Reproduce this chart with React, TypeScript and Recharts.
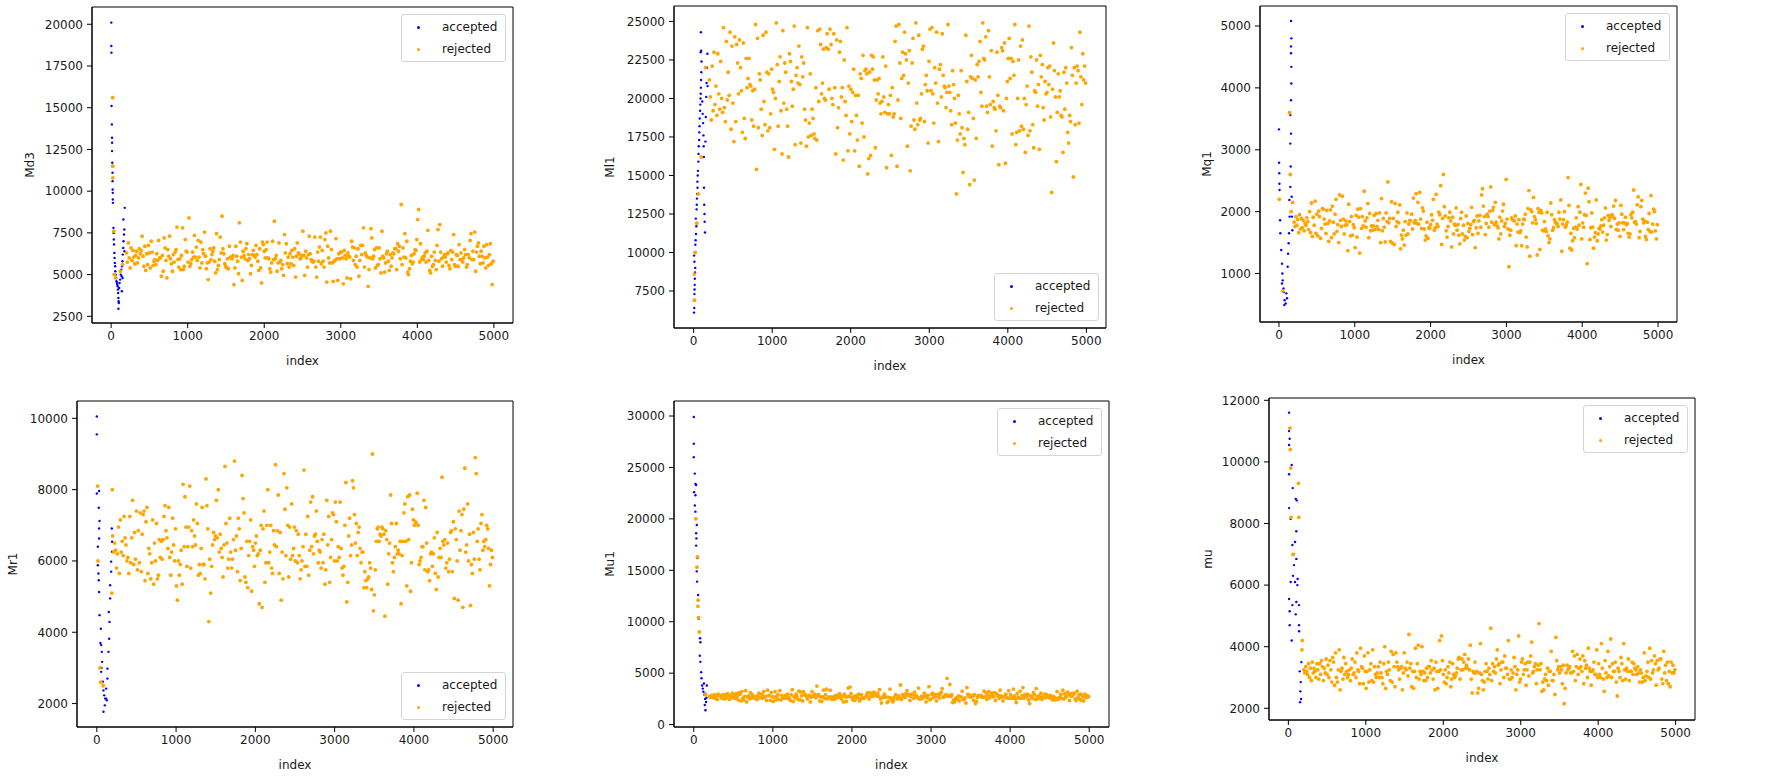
import React from 'react';
import { ScatterChart, Scatter, XAxis, YAxis, Legend, ReferenceArea } from 'recharts';

// sample index axis shared by every trace
const INDEX_TICKS = [0, 1000, 2000, 3000, 4000, 5000];
const FIRST_REJECTED = 200;
const LAST_REJECTED = 4990;

// ---- Md3 ----
const MD3_TICKS = [2500, 5000, 7500, 10000, 12500, 15000, 17500, 20000];
const MD3_ACCEPTED: [number, number][] = [
  [2, 20100], [3, 18700], [4, 18300], [5, 15100], [10, 14000], [12, 13200], [13, 12900], [12, 12400],
  [15, 11700], [16, 11500], [18, 11100], [19, 10600], [20, 10100], [21, 9900], [22, 9500], [23, 9300],
  [30, 7800], [33, 7500], [35, 7100], [38, 6800], [42, 6300], [45, 6000], [48, 5700], [52, 5500],
  [55, 5200], [60, 5000], [65, 4800], [70, 4600], [75, 4500], [80, 4400], [85, 4300], [88, 4100],
  [92, 3900], [95, 3600], [98, 3400], [100, 3300], [95, 2950], [105, 4200], [110, 4500], [118, 4700],
  [125, 5000], [132, 5300], [138, 4900], [142, 5500], [148, 5800], [152, 6200], [158, 6600], [162, 7000],
  [168, 7400], [172, 7700], [160, 8300], [178, 9000], [175, 6400], [150, 4800], [140, 4000],
];
const MD3_REJECTED_EARLY: [number, number][] = [
  [20, 15600], [22, 11500], [22, 10800], [35, 7600], [40, 5000], [60, 4800], [120, 5200], [150, 5600],
];
const MD3_REJECTED = [
  6300, 5750, 6900, 6000, 5400, 6600, 5850, 6450, 6050, 5650, 6150, 6400, 5700, 6000, 6550, 6250,
  6450, 7300, 6100, 5500, 6700, 5250, 6250, 5600, 6750, 6300, 5400, 7000, 6350, 5550, 5800, 5900,
  5600, 6250, 5850, 7050, 6000, 6000, 4900, 6150, 5200, 7200, 6600, 5850, 4800, 6500, 6100, 7300,
  5950, 5650, 5200, 6200, 5750, 6350, 6500, 7850, 5900, 5450, 5950, 5300, 6150, 7800, 5300, 5500,
  7100, 6400, 6350, 5750, 8400, 5500, 5650, 5900, 6350, 6050, 7350, 6050, 6650, 5850, 7050, 6050,
  5400, 6950, 5700, 6500, 6250, 7550, 6100, 5350, 5700, 4700, 5750, 6550, 5900, 6200, 6400, 6600,
  5800, 5100, 7450, 5300, 5550, 5900, 7250, 6300, 8500, 6550, 6250, 5650, 5500, 5400, 5950, 5350,
  6700, 6050, 6000, 5950, 6150, 4400, 5400, 6700, 6100, 5800, 5050, 8100, 6950, 6050, 4650, 6400,
  6150, 5950, 6550, 6850, 5850, 6200, 5950, 5050, 5550, 6200, 6450, 6150, 6050, 6750, 6200, 5800,
  5250, 6550, 5400, 4500, 6950, 6800, 6400, 6000, 6500, 6950, 6000, 5950, 5350, 5150, 5700, 7000,
  5900, 8200, 5950, 6150, 5200, 5700, 6900, 5750, 5850, 5350, 5600, 4950, 7400, 6300, 6850, 5650,
  6050, 5450, 6250, 5650, 6450, 6050, 5550, 6550, 4850, 6100, 6900, 6300, 6250, 5950, 6000, 6150,
  7600, 6150, 4950, 6400, 6000, 5450, 6200, 7300, 6250, 5900, 5800, 5750, 5800, 7250, 5450, 4850,
  6350, 5800, 6650, 7250, 5650, 6450, 5800, 5450, 7100, 7500, 4550, 6700, 6000, 5700, 7600, 6500,
  5700, 4600, 5800, 5850, 7150, 5950, 4650, 6250, 5950, 6350, 6350, 6000, 4450, 6450, 6150, 5950,
  4800, 6300, 6100, 6050, 4750, 7000, 6650, 5850, 6600, 5600, 6100, 5450, 6550, 4900, 5850, 6750,
  6200, 6750, 7800, 5450, 6300, 6150, 6050, 4300, 5300, 6000, 7750, 7200, 5950, 6100, 6500, 5400,
  6600, 5550, 5600, 6600, 5950, 5100, 7600, 6100, 6000, 5150, 5700, 6250, 6400, 5800, 5250, 6200,
  5500, 6000, 6300, 6250, 6550, 6550, 5300, 6850, 6400, 6700, 5950, 9200, 5600, 6600, 6050, 7450,
  6000, 7000, 5150, 5000, 5350, 5800, 6150, 5650, 5750, 6250, 6500, 6450, 7100, 8300, 8900, 5750,
  6850, 5900, 6050, 5900, 6100, 6300, 5750, 6400, 7650, 5850, 5250, 5100, 6100, 5500, 5600, 6350,
  5850, 5300, 6750, 7700, 5800, 8000, 6350, 5950, 5500, 6050, 6200, 6050, 5750, 6250, 6300, 5550,
  5350, 6450, 5900, 6350, 7400, 5600, 5500, 6200, 6150, 5500, 6800, 5900, 6300, 5900, 5750, 6000,
  6500, 6200, 5450, 5600, 6200, 6000, 7050, 7450, 5900, 6400, 5900, 7550, 5200, 6350, 6700, 6900,
  6100, 5650, 6400, 6100, 5700, 6700, 6000, 5400, 6800, 6050, 5550, 6200, 6850, 5650, 4400, 5800,
];

// ---- Ml1 ----
const ML1_TICKS = [7500, 10000, 12500, 15000, 17500, 20000, 22500, 25000];
const ML1_ACCEPTED: [number, number][] = [
  [5, 6100], [8, 6400], [4, 6900], [10, 7300], [12, 7600], [14, 7900], [15, 8300], [18, 8700],
  [20, 9000], [10, 9400], [6, 9800], [16, 10000], [22, 10500], [25, 10800], [30, 11200], [35, 11700],
  [28, 12200], [38, 12800], [40, 13100], [42, 13500], [45, 13800], [50, 14200], [48, 14600], [52, 15000],
  [55, 15300], [60, 15900], [62, 16400], [65, 16900], [70, 17300], [72, 17800], [75, 18200], [78, 18700],
  [82, 19200], [85, 19600], [88, 20000], [90, 20300], [92, 20700], [95, 21200], [98, 21700], [90, 23000],
  [92, 24300], [96, 23100], [100, 22400], [110, 19800], [115, 19000], [120, 18400], [125, 17600], [128, 16900],
  [130, 16200], [132, 14200], [135, 13100], [138, 12500], [140, 12000], [145, 11300], [150, 17200], [155, 18800],
  [160, 20100], [165, 21000], [170, 22000], [175, 22900], [178, 20800],
];
const ML1_REJECTED_EARLY: [number, number][] = [
  [20, 10000], [8, 8600], [12, 6900], [40, 11900], [60, 13800], [95, 16200], [150, 22000],
];
const ML1_REJECTED = [
  21200, 20100, 18600, 22100, 19200, 23000, 19600, 20800, 18900, 22900, 20300, 19300, 22400, 20000, 19100, 24600,
  19400, 18500, 23700, 19900, 21700, 20200, 24300, 18000, 23400, 19700, 17200, 24000, 18500, 23500, 22300, 20300,
  23800, 22000, 20500, 17800, 23600, 18700, 17400, 22600, 20700, 21300, 22600, 20900, 20800, 18600, 20500, 18200,
  20600, 24800, 15400, 23900, 18100, 21600, 21200, 19300, 17600, 24100, 19800, 18300, 24300, 21700, 17900, 21600,
  18100, 19000, 21900, 20600, 20400, 16700, 20000, 24900, 22200, 18200, 21100, 22700, 19200, 16400, 24400, 19700,
  22300, 21700, 19300, 18200, 16200, 22900, 22400, 21100, 19500, 20600, 24700, 17000, 21500, 22000, 21000, 23400,
  20900, 17100, 22700, 21400, 22300, 19300, 18600, 16900, 24600, 17500, 18400, 21600, 17600, 19300, 18700, 17700,
  17400, 20700, 17300, 24400, 19800, 24500, 23500, 20300, 21000, 23200, 20000, 19900, 23300, 24200, 23200, 20600,
  24500, 23500, 20000, 19600, 24200, 20700, 16400, 23800, 18100, 19400, 23000, 23700, 20100, 20700, 16000, 22500,
  19800, 18900, 24600, 16600, 20800, 17700, 20600, 18500, 20400, 21900, 16600, 20200, 18900, 17300, 20200, 15600,
  21600, 21300, 18400, 22800, 17500, 21800, 21900, 21600, 15100, 16100, 21700, 16300, 22800, 21900, 22700, 21200,
  16800, 19900, 21200, 20300, 21300, 19700, 19000, 19800, 22700, 20100, 19100, 22100, 15500, 19000, 19600, 19000,
  20200, 16300, 20700, 18800, 19000, 23700, 24700, 15600, 19900, 24800, 22300, 18700, 21300, 23000, 21500, 24300,
  22900, 22500, 16900, 21000, 23100, 15300, 18200, 22300, 23900, 18600, 18000, 24900, 19700, 18300, 24100, 18600,
  18700, 20300, 23200, 23400, 18500, 20900, 21500, 20500, 17100, 22400, 24500, 20500, 24600, 20300, 18400, 22000,
  21000, 24300, 19700, 17200, 21900, 22200, 20100, 24200, 21500, 20800, 20700, 19400, 20400, 24800, 20800, 20400,
  19200, 18300, 21800, 20900, 20000, 18400, 13800, 17300, 20200, 19000, 17700, 21800, 18100, 15200, 17400, 17000,
  24100, 21100, 18000, 19100, 14400, 21400, 22800, 21300, 18700, 14700, 21200, 17400, 22200, 21400, 22400, 23700,
  20400, 19500, 24900, 22600, 22500, 24000, 19500, 19100, 24400, 21400, 19600, 23100, 16900, 19800, 19400, 19300,
  17900, 23000, 20200, 15700, 19500, 19400, 23300, 23100, 19200, 23600, 15800, 20000, 21100, 22600, 23900, 21300,
  22600, 17700, 22400, 21500, 24800, 17000, 17800, 20000, 22500, 17900, 23400, 18200, 23800, 18000, 20000, 16500,
  19600, 20800, 17600, 24700, 17900, 22700, 21700, 18300, 16800, 20500, 20400, 22500, 19500, 20900, 16700, 22800,
  21400, 22200, 19400, 18600, 21100, 20300, 20400, 22000, 20900, 22100, 18800, 13900, 20600, 23600, 21800, 20100,
  15900, 19100, 21600, 20100, 20500, 18900, 18800, 16500, 21700, 19300, 22000, 21000, 17800, 17100, 18900, 18500,
  23300, 21500, 14900, 22000, 18300, 21000, 22100, 21800, 18400, 24300, 21400, 19600, 22900, 21200, 22100, 21000,
];

// ---- Mq1 ----
const MQ1_TICKS = [1000, 2000, 3000, 4000, 5000];
const MQ1_ACCEPTED: [number, number][] = [
  [0, 3330], [2, 2790], [4, 2620], [6, 2450], [8, 2350], [15, 1860], [18, 1650], [30, 1380],
  [40, 1160], [45, 1000], [40, 840], [50, 890], [62, 700], [75, 570], [88, 515], [97, 680],
  [106, 600], [115, 1110], [120, 1320], [128, 1490], [133, 1650], [141, 1920], [137, 2190], [150, 2400],
  [155, 2730], [150, 3100], [159, 3260], [150, 3560], [159, 3800], [163, 4070], [163, 4340], [159, 4560],
  [163, 4800], [159, 4670], [159, 5080], [172, 1920], [177, 1700], [168, 2240], [60, 760], [70, 490],
];
const MQ1_REJECTED_EARLY: [number, number][] = [
  [5, 2200], [50, 720], [140, 3600], [150, 2600], [160, 2000], [180, 2150],
];
const MQ1_REJECTED = [
  1830, 1760, 1920, 1780, 1870, 1660, 1950, 1720, 1890, 1740, 1860, 1690, 1810, 1780, 1900, 1840,
  1710, 2000, 1660, 2140, 1600, 1910, 1780, 2170, 1650, 1960, 1610, 2010, 1920, 1570, 1730, 2050,
  2040, 1880, 1800, 1650, 2020, 1810, 1520, 1850, 2030, 1580, 2090, 1830, 1640, 1960, 2200, 1680,
  1790, 1500, 2270, 1860, 1760, 2250, 1880, 1640, 1780, 1850, 1790, 1370, 2120, 1840, 1610, 1920,
  1620, 1790, 1740, 1420, 1940, 1590, 2040, 1910, 1330, 2050, 1730, 1920, 1770, 2330, 1850, 1750,
  1900, 2130, 1580, 1970, 1690, 1770, 1700, 1770, 1940, 1710, 1970, 1760, 1860, 1710, 1980, 1500,
  2210, 1690, 1890, 1750, 1510, 1980, 1840, 2480, 1820, 1890, 1520, 2160, 1490, 1890, 1470, 2130,
  1760, 1840, 1990, 1820, 2110, 1400, 1620, 1560, 1700, 1460, 1840, 1620, 1980, 1640, 1800, 1860,
  1850, 1960, 1720, 2220, 1820, 1860, 2290, 1810, 2150, 1800, 2310, 1880, 1730, 2060, 2010, 1720,
  1540, 1610, 1830, 1570, 1740, 1730, 1790, 1950, 1860, 2200, 1700, 1740, 2280, 1800, 1760, 1990,
  1950, 2420, 1470, 1890, 2600, 2080, 1930, 1690, 1590, 1760, 1900, 1990, 1850, 1430, 1910, 1640,
  1800, 1780, 2060, 1700, 1790, 1620, 1480, 1890, 1990, 1640, 1780, 1540, 1600, 1930, 1580, 1810,
  1680, 1730, 1790, 2070, 1630, 1840, 1860, 1420, 1740, 1930, 1650, 1850, 1940, 1750, 2270, 2370,
  2090, 1920, 1630, 1810, 1960, 1920, 1750, 2010, 2400, 1830, 2020, 2070, 1790, 2150, 1830, 1770,
  1740, 1560, 1910, 1640, 1850, 2010, 2120, 1760, 1810, 2520, 1880, 1720, 1110, 1620, 1700, 1900,
  1870, 1860, 1850, 1930, 1450, 1800, 1670, 1870, 1660, 1690, 1450, 1800, 1880, 1870, 1960, 1590,
  1430, 2050, 2340, 1280, 2030, 2000, 1820, 2230, 1920, 1870, 1810, 1300, 2050, 1990, 1390, 2020,
  1980, 1700, 1690, 1840, 1720, 1680, 1990, 1610, 1500, 1560, 2140, 1950, 1700, 1740, 1870, 1830,
  1810, 1810, 1760, 1990, 1880, 2190, 1360, 1800, 1870, 2000, 1750, 1780, 1830, 2550, 2100, 1410,
  1650, 1380, 1530, 1730, 1580, 1750, 1900, 1720, 2080, 1780, 1990, 2440, 1560, 1820, 1750, 1950,
  2300, 1940, 1160, 2380, 2160, 1550, 1740, 1980, 1750, 1410, 1590, 1660, 2190, 1530, 1640, 1730,
  1720, 1770, 1870, 1670, 1780, 1900, 2060, 1540, 1630, 1940, 1860, 1900, 1760, 1950, 1930, 2090,
  1890, 2180, 1710, 1800, 1700, 1820, 1600, 2100, 1960, 1820, 1710, 1820, 1910, 1790, 1810, 1650,
  1590, 1640, 1950, 1900, 1990, 2350, 1830, 1840, 1800, 2110, 2240, 1580, 1680, 2080, 2180, 1880,
  1820, 1850, 1600, 1550, 1830, 1710, 1970, 1680, 2260, 1670, 1800, 2040, 2000, 1690, 1560, 1790,
];

// ---- Mr1 ----
const MR1_TICKS = [2000, 4000, 6000, 8000, 10000];
const MR1_ACCEPTED: [number, number][] = [
  [0, 10050], [0, 9550], [0, 7890], [29, 7960], [25, 7490], [34, 7120], [29, 6910], [29, 6630],
  [13, 6400], [13, 5880], [21, 5650], [25, 5460], [29, 5130], [34, 4480], [51, 4100], [55, 3640],
  [63, 3450], [67, 3170], [55, 2890], [76, 2610], [84, 2370], [93, 2230], [105, 2140], [101, 1950],
  [84, 1770], [118, 2420], [134, 2700], [134, 2980], [147, 3450], [156, 3820], [160, 4290], [151, 4570],
  [168, 4950], [168, 5320], [181, 5700], [181, 5980], [193, 6260], [193, 6540], [189, 6910], [118, 2140],
  [126, 2090], [60, 3000], [45, 3700],
];
const MR1_REJECTED_EARLY: [number, number][] = [
  [10, 8100], [15, 6000], [40, 3000], [50, 2600], [80, 2500], [190, 5100], [195, 8000],
];
const MR1_REJECTED = [
  6700, 6250, 6500, 6300, 5800, 6200, 6950, 5650, 7150, 6250, 6550, 6150, 7250, 6650, 6450, 6000,
  6100, 5650, 7250, 5950, 6650, 7700, 5900, 6800, 6050, 7400, 5750, 6850, 5950, 7350, 5700, 6750,
  7300, 7400, 5450, 7100, 7500, 5650, 6350, 6200, 5500, 5950, 7150, 5350, 6500, 6000, 7050, 5500,
  5600, 6600, 6100, 6550, 6050, 6600, 7250, 7550, 6850, 6650, 6350, 7500, 6100, 5600, 6250, 7200,
  6450, 6000, 6900, 5300, 4900, 6000, 5600, 5900, 6300, 5350, 8150, 6400, 7800, 6950, 5850, 6400,
  6950, 8100, 5800, 6850, 6400, 7150, 6700, 6450, 7600, 7050, 5600, 5900, 5650, 6350, 7500, 5900,
  5900, 5500, 8300, 7550, 6900, 4300, 6050, 5100, 5850, 6450, 6800, 6600, 6700, 7700, 6650, 8000,
  6250, 6750, 6350, 6100, 5550, 6450, 8650, 7050, 6500, 5800, 6050, 7200, 6250, 5800, 6050, 6600,
  8800, 6300, 6700, 5700, 7200, 6900, 5450, 6350, 8400, 7750, 7350, 5550, 5400, 6550, 5250, 6150,
  6550, 7150, 5150, 6400, 6300, 5850, 6500, 6700, 6150, 6200, 4800, 6300, 7000, 4700, 6900, 7400,
  5400, 5950, 7000, 8000, 5950, 6250, 7000, 5800, 5650, 6850, 6450, 8700, 6400, 6850, 7850, 5650,
  6800, 4900, 6250, 5500, 8450, 7450, 6150, 8050, 7000, 5550, 6950, 6050, 7600, 6150, 6350, 6950,
  6000, 6850, 5950, 6750, 6150, 5500, 5750, 6000, 6400, 8550, 5850, 6750, 5850, 7250, 5600, 6300,
  7650, 6400, 7800, 6200, 6700, 6750, 7400, 6550, 5950, 6300, 6250, 5800, 6600, 5950, 6750, 5350,
  5750, 7700, 6450, 7250, 5400, 6100, 6600, 7350, 7300, 6000, 7650, 7100, 6000, 6400, 6100, 7650,
  6350, 5800, 5600, 5850, 7000, 8200, 4850, 5400, 6700, 7200, 6150, 6450, 8250, 8050, 7300, 6500,
  7050, 6150, 6800, 6950, 6350, 5950, 6250, 6250, 5250, 5700, 5450, 5250, 5500, 5550, 5950, 5800,
  5200, 9000, 4600, 5050, 5750, 6550, 6900, 6950, 6550, 6750, 6700, 6950, 6900, 6750, 4450, 6850,
  6600, 5350, 6200, 6500, 7850, 7050, 5950, 5700, 6100, 6400, 7050, 6200, 6300, 6200, 6550, 4800,
  6150, 6550, 7350, 7600, 6550, 5300, 7800, 6600, 7850, 5150, 5950, 7450, 7150, 7000, 7100, 7050,
  7900, 7000, 5900, 6000, 6100, 6400, 6400, 7700, 5750, 7500, 6500, 5700, 5750, 5450, 6200, 6250,
  5850, 6200, 6650, 5650, 5200, 6800, 5550, 6100, 6350, 6100, 8350, 6550, 6450, 6600, 5800, 5950,
  6500, 5700, 6050, 6800, 6850, 5700, 7100, 4950, 6900, 6600, 6000, 4900, 7400, 6300, 6850, 7300,
  4700, 7450, 8600, 6250, 6450, 7600, 6000, 6750, 4750, 5900, 5650, 6800, 6050, 8900, 8450, 6550,
  6900, 6050, 5750, 7050, 7300, 6300, 6550, 6400, 6600, 7000, 6900, 6350, 5300, 5900, 6300, 6100,
];

// ---- Mu1 ----
const MU1_TICKS = [0, 5000, 10000, 15000, 20000, 25000, 30000];
const MU1_ACCEPTED: [number, number][] = [
  [0, 29900], [0, 27300], [0, 26000], [13, 24400], [21, 23400], [30, 23300], [4, 22600], [21, 22300],
  [13, 21300], [21, 20700], [30, 20000], [38, 19400], [30, 18600], [34, 18100], [30, 17400], [46, 16200],
  [38, 14900], [42, 13900], [55, 12600], [63, 10300], [72, 9000], [80, 8400], [84, 8000], [76, 6700],
  [84, 6100], [93, 5100], [97, 4500], [106, 3800], [114, 3500], [135, 2900], [139, 1900], [148, 1400],
  [156, 2200], [165, 3800], [143, 2500], [122, 3200], [150, 3000], [160, 2600], [128, 4000],
];
const MU1_REJECTED_EARLY: [number, number][] = [
  [25, 20000], [45, 16300], [40, 15300], [55, 12100], [52, 11500], [60, 10400], [70, 9000], [150, 2900],
];
const MU1_REJECTED = [
  2750, 2650, 2850, 2700, 2600, 2900, 2550, 2800, 2450, 2950, 2850, 2800, 2700, 2550, 2900, 2750,
  2500, 2900, 2600, 3000, 2850, 2450, 2800, 2650, 3050, 2600, 2850, 2550, 3000, 2750, 2400, 3100,
  2950, 2300, 3200, 2550, 2400, 2750, 3300, 2200, 2700, 2800, 2500, 3100, 2600, 2900, 2700, 2550,
  2650, 2750, 2450, 2800, 3050, 2600, 2650, 2950, 2550, 3200, 2750, 2700, 2350, 3350, 2850, 2800,
  2350, 3100, 2700, 2250, 2700, 3200, 2400, 2750, 2900, 2450, 3300, 2400, 2850, 2600, 2550, 2650,
  2850, 2550, 2950, 2650, 2550, 2350, 2900, 3400, 2250, 2700, 2600, 2950, 2750, 2450, 3250, 2400,
  3150, 2800, 2300, 3200, 2950, 2850, 2750, 2500, 2800, 2850, 2200, 2650, 3200, 2800, 2750, 2950,
  2600, 3750, 2800, 2900, 2300, 2700, 2250, 2700, 3350, 2550, 2900, 3450, 2500, 2700, 2600, 3350,
  2700, 2450, 2650, 2450, 2800, 2550, 2850, 2850, 2650, 3000, 2750, 2500, 2800, 2200, 2950, 2700,
  2250, 2700, 3550, 2750, 3650, 3000, 2600, 2400, 2750, 2350, 2550, 2850, 2650, 2950, 2300, 2500,
  2900, 2600, 2550, 2600, 2650, 2800, 3050, 3100, 2500, 2750, 3050, 2750, 2950, 3150, 2800, 2850,
  2800, 3050, 2750, 3400, 2500, 2100, 2700, 2650, 2950, 2650, 2700, 2150, 2250, 2650, 3450, 2600,
  2450, 2200, 2400, 2700, 2900, 2700, 2500, 2800, 2600, 3850, 2450, 2900, 2700, 2850, 2650, 3000,
  3300, 2850, 2900, 2350, 2750, 2950, 2950, 2550, 3150, 2800, 2800, 2600, 3550, 2500, 2500, 2750,
  2550, 2650, 3050, 2850, 2200, 2600, 2850, 3700, 2400, 2500, 2950, 3050, 2600, 2750, 2900, 2300,
  2750, 2950, 2600, 2950, 3150, 3500, 2650, 2700, 2850, 2900, 4500, 2750, 2850, 3900, 2750, 2900,
  2150, 2400, 2200, 2500, 2600, 2450, 2800, 2300, 2700, 2700, 3250, 2450, 2450, 2600, 2100, 3600,
  2950, 2750, 2850, 2650, 2850, 2750, 2350, 2900, 2050, 2250, 2650, 2850, 2750, 2800, 2850, 2650,
  2650, 3250, 2700, 3100, 2450, 2850, 3200, 2600, 2800, 3050, 2850, 2700, 3100, 2350, 3000, 2800,
  2850, 2550, 3350, 2800, 2700, 2300, 2700, 2750, 2950, 2600, 2600, 3300, 2550, 2900, 2600, 2550,
  3450, 2800, 2500, 2150, 3000, 2650, 2550, 3250, 2550, 2850, 3600, 2550, 2900, 2700, 2700, 2950,
  2400, 2050, 2800, 2700, 2550, 3100, 2900, 2450, 3500, 2750, 2500, 2800, 2700, 3050, 2450, 2700,
  2700, 2950, 2600, 2900, 2800, 2750, 2600, 2850, 2650, 2400, 2750, 2650, 2400, 2550, 3200, 2450,
  2600, 2700, 2950, 2550, 3350, 2500, 3000, 2650, 2750, 3150, 2900, 2350, 3000, 2750, 2800, 3050,
  3000, 2500, 2350, 3250, 2650, 2900, 2450, 2950, 2350, 2700, 2300, 2950, 2650, 2850, 2650, 2750,
];

// ---- mu ----
const MU_TICKS = [2000, 4000, 6000, 8000, 10000, 12000];
const MU_ACCEPTED: [number, number][] = [
  [9, 11600], [9, 11000], [17, 10750], [9, 10550], [43, 9900], [9, 9600], [56, 9150], [95, 8800],
  [108, 8750], [9, 8500], [30, 8150], [103, 7750], [86, 7400], [52, 7300], [103, 6850], [73, 6650],
  [60, 6300], [86, 6100], [116, 6000], [30, 6100], [9, 5550], [52, 5350], [103, 5450], [138, 5350],
  [17, 5150], [95, 5050], [17, 4700], [138, 4700], [43, 4200], [138, 4500], [147, 3200], [160, 2850],
  [155, 2550], [164, 2300], [151, 2200], [168, 3500], [120, 6200], [70, 7000],
];
const MU_REJECTED_EARLY: [number, number][] = [
  [20, 11100], [25, 10400], [30, 9800], [35, 8200], [60, 7000], [130, 9300], [135, 8200], [180, 4200], [175, 3900],
];
const MU_REJECTED = [
  3250, 3150, 3350, 3200, 3100, 3450, 3000, 3300, 2900, 3500, 3150, 3300, 3200, 3000, 3450, 3250,
  2950, 3450, 3100, 3550, 3350, 2900, 3300, 3150, 3600, 3100, 3400, 3000, 3550, 3250, 2850, 3650,
  3500, 2750, 3800, 3000, 2850, 3250, 3900, 2600, 3200, 3300, 2950, 3650, 3100, 3450, 3200, 3000,
  3100, 3250, 2900, 3300, 3600, 3100, 3150, 3500, 3000, 3800, 3250, 3200, 2800, 3950, 3350, 3300,
  2800, 3700, 3200, 2650, 3200, 3800, 2850, 3250, 3450, 2900, 3900, 2850, 3350, 3100, 3000, 3150,
  3350, 3000, 3500, 3150, 3000, 2800, 3450, 4000, 2650, 3200, 3100, 3500, 3250, 2900, 3850, 2850,
  3750, 3350, 2700, 3800, 3500, 3350, 3250, 2950, 3300, 3350, 2600, 3150, 3800, 3300, 3250, 3500,
  3050, 4400, 3300, 3450, 2700, 3200, 2650, 3200, 3950, 3000, 3450, 4050, 2950, 3200, 3100, 4000,
  3200, 2900, 3150, 2900, 3300, 3000, 3350, 3350, 3150, 3550, 3250, 2950, 3300, 2600, 3500, 3200,
  2650, 3200, 4200, 3250, 4350, 3550, 3100, 2850, 3250, 2800, 3000, 3350, 3150, 3500, 2700, 2950,
  3450, 3100, 3000, 3050, 3150, 3300, 3600, 3650, 2950, 3250, 3600, 3250, 3500, 3750, 3300, 3400,
  3300, 3600, 3250, 4050, 2950, 2500, 3200, 3150, 3500, 3150, 3200, 2500, 2650, 3150, 4100, 3100,
  2900, 2600, 2850, 3200, 3450, 3200, 2950, 3300, 3100, 4600, 2900, 3450, 3200, 3350, 3150, 3600,
  3900, 3400, 3450, 2800, 3250, 3500, 3500, 3000, 3700, 3300, 3300, 3100, 4200, 2950, 2950, 3250,
  3000, 3150, 3650, 3350, 2600, 3100, 3250, 4350, 2850, 2950, 3500, 3600, 3100, 3250, 3450, 2750,
  3250, 3500, 3050, 3500, 3700, 4150, 3150, 3200, 3350, 3450, 2800, 3250, 3400, 4750, 3250, 3450,
  2550, 2850, 2600, 2950, 3100, 2900, 3300, 2750, 3200, 3200, 3850, 2900, 2900, 3100, 2450, 4300,
  3550, 3250, 3350, 3150, 3350, 3250, 2800, 3400, 2150, 2650, 3150, 3400, 3250, 3300, 3350, 3150,
  3150, 3850, 3200, 3700, 2900, 3350, 3750, 3100, 3300, 3600, 3350, 3200, 3700, 2800, 3550, 3300,
  3400, 3000, 3950, 3300, 3200, 2750, 3200, 3250, 3500, 3100, 3100, 3900, 3000, 3450, 3100, 3000,
  4100, 3300, 2950, 2550, 3550, 3150, 3000, 3850, 3050, 3350, 4250, 3000, 3450, 3200, 3200, 3500,
  2850, 2400, 3300, 3200, 3000, 3650, 3450, 2900, 4100, 3250, 2950, 3300, 3200, 3600, 2900, 3200,
  3200, 3500, 3100, 3450, 3300, 3250, 3100, 3350, 3150, 2850, 3250, 3150, 2850, 3000, 3800, 2900,
  3050, 3200, 3500, 3000, 3950, 2950, 3550, 3150, 3250, 3700, 3450, 2750, 3550, 3250, 3300, 3600,
  3600, 2950, 2800, 3850, 3150, 3400, 2900, 3500, 2800, 3200, 2700, 3500, 3150, 3400, 3150, 3250,
];

const ACCEPTED_COLOR = '#0000ff';
const REJECTED_COLOR = '#ffa500';
const TEXT_COLOR = '#1a1a1a';
const FONT = '"DejaVu Sans", sans-serif';

const X_DOMAIN: [number, number] = [-250, 5250];
const Y_AXIS_W = 70;
const PAD = 10;
const X_AXIS_H = 50;
const LEGEND_W = 105;
const LEGEND_H = 48;
const LEGEND_INSET = 7;

type Frame = { left: number; top: number; width: number; height: number };

type Panel = {
  label: string;
  accepted: [number, number][];
  rejectedEarly: [number, number][];
  rejected: number[];
  yTicks: number[];
  yDomain: [number, number];
  frame: Frame;
  titleGap: number;
  legendAt: 'top' | 'bottom';
};

const PANELS: Panel[] = [
  { label: 'Md3', accepted: MD3_ACCEPTED, rejectedEarly: MD3_REJECTED_EARLY, rejected: MD3_REJECTED, yTicks: MD3_TICKS, yDomain: [2100, 21035], frame: { left: 92, top: 7, width: 421, height: 316 }, titleGap: 62, legendAt: 'top' },
  { label: 'Ml1', accepted: ML1_ACCEPTED, rejectedEarly: ML1_REJECTED_EARLY, rejected: ML1_REJECTED, yTicks: ML1_TICKS, yDomain: [5100, 26000], frame: { left: 674, top: 6, width: 432, height: 322 }, titleGap: 64, legendAt: 'bottom' },
  { label: 'Mq1', accepted: MQ1_ACCEPTED, rejectedEarly: MQ1_REJECTED_EARLY, rejected: MQ1_REJECTED, yTicks: MQ1_TICKS, yDomain: [217, 5323], frame: { left: 1260, top: 6, width: 417, height: 316 }, titleGap: 53, legendAt: 'top' },
  { label: 'Mr1', accepted: MR1_ACCEPTED, rejectedEarly: MR1_REJECTED_EARLY, rejected: MR1_REJECTED, yTicks: MR1_TICKS, yDomain: [1343, 10486], frame: { left: 77, top: 401, width: 436, height: 326 }, titleGap: 64, legendAt: 'bottom' },
  { label: 'Mu1', accepted: MU1_ACCEPTED, rejectedEarly: MU1_REJECTED_EARLY, rejected: MU1_REJECTED, yTicks: MU1_TICKS, yDomain: [-233, 31459], frame: { left: 674, top: 401, width: 435, height: 326 }, titleGap: 64, legendAt: 'top' },
  { label: 'mu', accepted: MU_ACCEPTED, rejectedEarly: MU_REJECTED_EARLY, rejected: MU_REJECTED, yTicks: MU_TICKS, yDomain: [1620, 12075], frame: { left: 1269, top: 398, width: 426, height: 322 }, titleGap: 61, legendAt: 'top' },
];

const toPoints = (pairs: [number, number][]) => pairs.map(([index, value]) => ({ index, value }));

// rejected draws follow one another along the chain after the burn-in
const chainPoints = (values: number[]) => {
  const step = (LAST_REJECTED - FIRST_REJECTED) / (values.length - 1);
  return values.map((value, i) => ({ index: FIRST_REJECTED + i * step, value }));
};

const dot = (r: number, color: string) => (props: any) =>
  <circle cx={props.cx} cy={props.cy} r={r} fill={color} />;

const tickStyle = { fill: TEXT_COLOR, fontSize: 12, fontFamily: FONT };

const xTitle = (props: any) => {
  const vb = props.viewBox;
  return (
    <text x={vb.x + vb.width / 2} y={vb.y + 38} textAnchor="middle" dominantBaseline="central"
      fontSize={12} fontFamily={FONT} fill={TEXT_COLOR}>index</text>
  );
};

const yTitle = (label: string, gap: number) => (props: any) => {
  const vb = props.viewBox;
  const x = vb.x + vb.width - gap;
  const y = vb.y + vb.height / 2;
  return (
    <text x={x} y={y} transform={`rotate(-90, ${x}, ${y})`} textAnchor="middle" dominantBaseline="central"
      fontSize={12} fontFamily={FONT} fill={TEXT_COLOR}>{label}</text>
  );
};

const legendBox = (props: any) => (
  <div style={{
    width: LEGEND_W, height: LEGEND_H, boxSizing: 'border-box', paddingTop: 1,
    border: '1px solid #d4d4d4', borderRadius: 3, background: 'rgba(255,255,255,0.8)',
    fontFamily: FONT, fontSize: 12, color: TEXT_COLOR,
  }}>
    {(props.payload ?? []).map((entry: any) => (
      <div key={entry.value} style={{ display: 'flex', alignItems: 'center', height: 22 }}>
        <span style={{ width: 3, height: 3, borderRadius: '50%', background: entry.color, marginLeft: 15, marginRight: 22 }} />
        <span>{entry.value}</span>
      </div>
    ))}
  </div>
);

function TracePanel({ panel }: { panel: Panel }) {
  const { frame } = panel;
  const width = frame.width + Y_AXIS_W + PAD;
  const height = frame.height + PAD + X_AXIS_H;
  const legendTop = panel.legendAt === 'top'
    ? PAD + LEGEND_INSET
    : PAD + frame.height - LEGEND_INSET - LEGEND_H;
  const legendLeft = Y_AXIS_W + frame.width - LEGEND_INSET - LEGEND_W;
  const rejected = [...toPoints(panel.rejectedEarly), ...chainPoints(panel.rejected)];

  return (
    <div style={{ position: 'absolute', left: frame.left - Y_AXIS_W, top: frame.top - PAD }}>
      <ScatterChart width={width} height={height} margin={{ top: PAD, right: PAD, bottom: 0, left: 0 }}>
        <XAxis dataKey="index" type="number" domain={X_DOMAIN} ticks={INDEX_TICKS} interval={0}
          allowDataOverflow height={X_AXIS_H} tickSize={5} tickMargin={3} stroke="#000"
          tick={tickStyle} label={xTitle} />
        <YAxis dataKey="value" type="number" domain={panel.yDomain} ticks={panel.yTicks} interval={0}
          allowDataOverflow width={Y_AXIS_W} tickSize={5} tickMargin={4} stroke="#000"
          tick={tickStyle} label={yTitle(panel.label, panel.titleGap)} />
        {/* full frame round the plotting area */}
        <ReferenceArea x1={X_DOMAIN[0]} x2={X_DOMAIN[1]} y1={panel.yDomain[0]} y2={panel.yDomain[1]}
          ifOverflow="visible" fill="none" fillOpacity={0} stroke="#000" strokeWidth={1} />
        <Scatter name="accepted" data={toPoints(panel.accepted)} fill={ACCEPTED_COLOR}
          shape={dot(1.2, ACCEPTED_COLOR)} isAnimationActive={false} />
        <Scatter name="rejected" data={rejected} fill={REJECTED_COLOR}
          shape={dot(1.9, REJECTED_COLOR)} isAnimationActive={false} />
        <Legend layout="vertical" align="center" verticalAlign="middle" content={legendBox}
          wrapperStyle={{ top: legendTop, left: legendLeft, width: LEGEND_W, height: LEGEND_H }} />
      </ScatterChart>
    </div>
  );
}

export default function App() {
  return (
    <div style={{ position: 'absolute', left: 0, top: 0, width: 1788, height: 776, background: '#fff', fontFamily: FONT }}>
      {PANELS.map((p) => <TracePanel key={p.label} panel={p} />)}
    </div>
  );
}
